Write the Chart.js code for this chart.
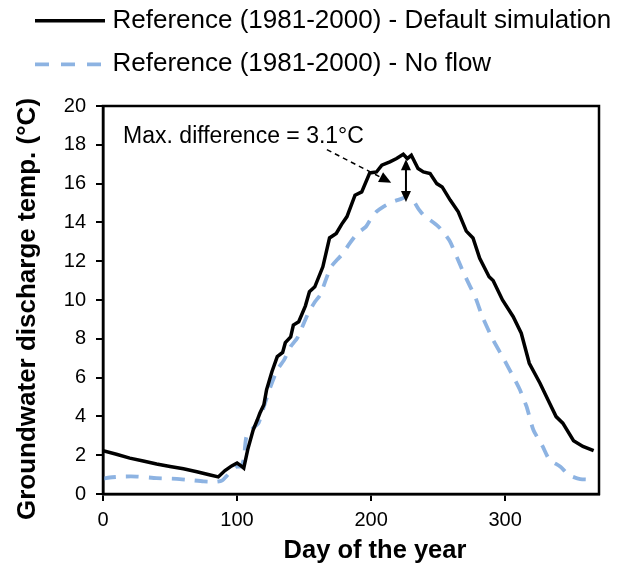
<!DOCTYPE html>
<html>
<head>
<meta charset="utf-8">
<script src="https://cdn.jsdelivr.net/npm/chart.js@4"></script>
<style>
  html, body { margin: 0; padding: 0; background: #fff; }
  #wrap { width: 621px; height: 569px; }
</style>
</head>
<body>
<div id="wrap"><canvas id="c" width="621" height="569"></canvas></div>
<script>
// Groundwater discharge temperature over the year, reference period 1981-2000
const seriesNames = ['Reference (1981-2000) - Default simulation', 'Reference (1981-2000) - No flow'];

const daysDefault = [0, 10, 20, 30, 40, 50, 60, 70, 80, 86, 91, 96, 100, 103, 105, 108, 112, 115, 117, 120,
  122, 126, 130, 134, 136, 140, 142, 146, 151, 154, 158, 164, 169, 174, 178, 182, 188, 193, 199, 204,
  208, 214, 219, 224, 227, 230, 235, 239, 244, 249, 253, 259, 265, 271, 276, 281, 288, 291, 298, 306,
  312, 318, 326, 332, 338, 343, 351, 358, 366];
const tempDefault = [2.23, 2.05, 1.85, 1.70, 1.55, 1.42, 1.30, 1.15, 0.98, 0.88, 1.21, 1.45, 1.60, 1.45, 1.34, 2.30, 3.30, 3.80, 4.16, 4.60,
  5.37, 6.30, 7.08, 7.30, 7.80, 8.10, 8.71, 8.88, 9.70, 10.43, 10.68, 11.71, 13.20, 13.43, 13.90, 14.30, 15.40, 15.57, 16.55, 16.60,
  16.95, 17.12, 17.29, 17.51, 17.29, 17.46, 16.78, 16.60, 16.52, 16.00, 15.83, 15.15, 14.55, 13.55, 13.20, 12.15, 11.20, 11.00, 10.00, 9.14,
  8.29, 6.74, 5.71, 4.85, 3.99, 3.65, 2.75, 2.45, 2.23];

const daysNoFlow = [0, 5, 15, 25, 40, 55, 65, 75, 85, 89, 92, 96, 100, 103, 105, 107, 112, 116, 120, 125,
  130, 135, 140, 145, 153, 158, 162, 166, 170, 175, 179, 184, 190, 196, 200, 204, 209, 216, 222, 226,
  231, 236, 240, 244, 250, 255, 259, 264, 269, 274, 278, 283, 291, 298, 306, 311, 316, 321, 328, 333,
  341, 346, 350, 356, 366];
const tempNoFlow = [0.79, 0.85, 0.90, 0.90, 0.82, 0.78, 0.72, 0.65, 0.63, 0.70, 0.91, 1.20, 1.42, 1.42, 1.80, 2.96, 3.40, 3.65, 4.50, 5.54,
  6.40, 6.90, 7.60, 8.05, 9.30, 9.90, 10.26, 11.00, 11.70, 12.10, 12.40, 12.92, 13.45, 13.77, 14.20, 14.55, 14.80, 15.06, 15.20, 15.30,
  15.15, 14.63, 14.30, 14.12, 13.80, 13.40, 13.00, 12.20, 11.40, 10.68, 10.10, 9.14, 7.94, 7.08, 6.05, 5.37, 4.50, 3.31, 2.45, 1.77,
  1.42, 1.08, 0.90, 0.77, 0.74];

const xTicks = [0, 100, 200, 300];
const yTicks = [0, 2, 4, 6, 8, 10, 12, 14, 16, 18, 20];

const xTitle = 'Day of the year';
const yTitle = 'Groundwater discharge temp. (°C)';
const annotationText = 'Max. difference = 3.1°C';

const FONT = "'Liberation Sans', Arial, sans-serif";
const BLUE = '#8DB3E2';

const toPoints = (xs, ys) => xs.map((x, i) => ({ x: x, y: ys[i] }));

function arrowHead(ctx, fromX, fromY, toX, toY, len, half) {
  const a = Math.atan2(toY - fromY, toX - fromX);
  ctx.beginPath();
  ctx.moveTo(toX, toY);
  ctx.lineTo(toX - len * Math.cos(a) + half * Math.sin(a), toY - len * Math.sin(a) - half * Math.cos(a));
  ctx.lineTo(toX - len * Math.cos(a) - half * Math.sin(a), toY - len * Math.sin(a) + half * Math.cos(a));
  ctx.closePath();
  ctx.fill();
}

// Frame, axis titles, legend and the max-difference annotation
const decorations = {
  id: 'decorations',
  afterDraw(chart) {
    const { ctx, chartArea: ca, scales: { x, y } } = chart;
    ctx.save();

    // plot frame
    ctx.strokeStyle = '#000';
    ctx.lineWidth = 2.5;
    ctx.strokeRect(ca.left, ca.top, ca.right - ca.left, ca.bottom - ca.top);

    // axis titles
    ctx.fillStyle = '#000';
    ctx.textAlign = 'center';
    ctx.textBaseline = 'middle';
    ctx.font = 'bold 25.5px ' + FONT;
    ctx.fillText(xTitle, 375, 551);
    ctx.save();
    ctx.translate(28, 309);
    ctx.rotate(-Math.PI / 2);
    ctx.font = 'bold 26px ' + FONT;
    ctx.fillText(yTitle, 0, 0);
    ctx.restore();

    // legend
    const rows = [
      { y: 20.7, color: '#000', dash: [], width: 3.5 },
      { y: 64.3, color: BLUE, dash: [14, 12], width: 3.8 }
    ];
    ctx.font = '26px ' + FONT;
    ctx.textAlign = 'left';
    rows.forEach((r, i) => {
      ctx.beginPath();
      ctx.setLineDash(r.dash);
      ctx.strokeStyle = r.color;
      ctx.lineWidth = r.width;
      ctx.moveTo(35, r.y);
      ctx.lineTo(105, r.y);
      ctx.stroke();
      ctx.setLineDash([]);
      ctx.fillStyle = '#000';
      ctx.fillText(seriesNames[i], 112.5, r.y);
    });

    // annotation text
    ctx.font = '23px ' + FONT;
    ctx.textBaseline = 'alphabetic';
    ctx.fillStyle = '#000';
    ctx.fillText(annotationText, x.getPixelForValue(15), y.getPixelForValue(18.1));

    // dashed pointer
    const sx = x.getPixelForValue(167), sy = y.getPixelForValue(17.75);
    const tx = x.getPixelForValue(215), ty = y.getPixelForValue(16.05);
    ctx.strokeStyle = '#000';
    ctx.lineWidth = 1.5;
    ctx.setLineDash([5, 4]);
    const ang = Math.atan2(ty - sy, tx - sx);
    ctx.beginPath();
    ctx.moveTo(sx, sy);
    ctx.lineTo(tx - 10 * Math.cos(ang), ty - 10 * Math.sin(ang));
    ctx.stroke();
    ctx.setLineDash([]);
    ctx.fillStyle = '#000';
    arrowHead(ctx, sx, sy, tx, ty, 12, 5.5);

    // double-headed difference arrow
    const ax = x.getPixelForValue(226);
    const ay1 = y.getPixelForValue(17.25), ay2 = y.getPixelForValue(15.05);
    ctx.lineWidth = 2;
    ctx.beginPath();
    ctx.moveTo(ax, ay1 + 8);
    ctx.lineTo(ax, ay2 - 8);
    ctx.stroke();
    arrowHead(ctx, ax, ay2, ax, ay1, 11, 5);
    arrowHead(ctx, ax, ay1, ax, ay2, 11, 5);

    ctx.restore();
  }
};

new Chart(document.getElementById('c'), {
  type: 'line',
  data: {
    datasets: [
      {
        label: seriesNames[0],
        data: toPoints(daysDefault, tempDefault),
        borderColor: '#000',
        borderWidth: 3.5,
        pointRadius: 0,
        tension: 0,
        fill: false
      },
      {
        label: seriesNames[1],
        data: toPoints(daysNoFlow, tempNoFlow),
        borderColor: BLUE,
        borderWidth: 3.8,
        borderDash: [13, 10],
        pointRadius: 0,
        tension: 0.2,
        fill: false
      }
    ]
  },
  options: {
    responsive: false,
    animation: false,
    events: [],
    layout: { padding: { top: 106, right: 22, left: 0, bottom: 0 } },
    plugins: { legend: { display: false }, tooltip: { enabled: false } },
    scales: {
      x: {
        type: 'linear',
        min: 0,
        max: 370,
        afterFit(s) { s.height = 75; },
        afterBuildTicks(s) { s.ticks = xTicks.map(v => ({ value: v })); },
        ticks: { font: { family: FONT, size: 20 }, color: '#000', padding: 7, includeBounds: false },
        grid: { display: true, drawOnChartArea: false, drawTicks: true, tickLength: 7, color: '#000', lineWidth: 2 },
        border: { display: true, color: '#000', width: 2.5 },
        title: { display: false }
      },
      y: {
        min: 0,
        max: 20,
        afterFit(s) { s.width = 103; },
        afterBuildTicks(s) { s.ticks = yTicks.map(v => ({ value: v })); },
        ticks: { font: { family: FONT, size: 20 }, color: '#000', padding: 10 },
        grid: { display: true, drawOnChartArea: false, drawTicks: true, tickLength: 7, color: '#000', lineWidth: 2 },
        border: { display: true, color: '#000', width: 2.5 },
        title: { display: false }
      }
    }
  },
  plugins: [decorations]
});
</script>
</body>
</html>
